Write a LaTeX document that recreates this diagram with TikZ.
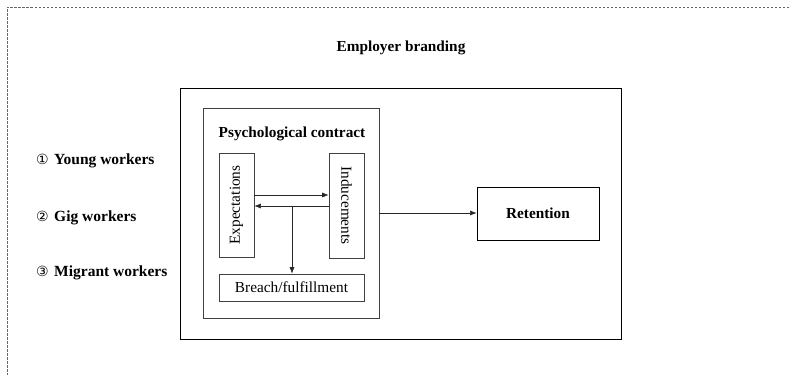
\documentclass[tikz,border=0pt]{standalone}
\usepackage{fontspec}
\setmainfont{Liberation Serif}
\newfontfamily\djv{DejaVu Sans}
\usetikzlibrary{arrows.meta}
\newcommand{\cnum}[1]{\makebox[18pt][l]{\djv\mdseries\fontsize{14}{16}\selectfont #1}}
\begin{document}
\begin{tikzpicture}[x=1pt,y=-1pt,
  every node/.style={font=\fontsize{15.3}{18}\selectfont, inner sep=0pt},
  box/.style={draw=black, line width=0.8pt, rectangle},
  thinbox/.style={draw=black!75, line width=0.7pt, rectangle},
  arr/.style={draw=black!85, line width=0.6pt, -{Latex[length=6.5pt,width=5pt]}},
  lbl/.style={anchor=west, font=\fontsize{15.5}{18}\selectfont\bfseries}]
\useasboundingbox (0,0) rectangle (789,375);
\fill[white] (0,0) rectangle (789,375);
% dashed frame
\coordinate (ftr) at (789,7);
\coordinate (ftl) at (7,7);
\coordinate (fbl) at (7,375);
\draw[black!60, line width=0.7pt, dash pattern=on 2.5pt off 1.5pt] (ftr) -- (ftl) -- (fbl);
% title
\node[font=\fontsize{15.3}{18}\selectfont\bfseries] (title) at (401,47.5) {Employer branding};
% outer box
\node[box, minimum width=441pt, minimum height=251pt] (outer) at (400.5,213.5) {};
% psychological contract box
\node[thinbox, minimum width=176pt, minimum height=210pt] (psych) at (291,213) {};
\node[font=\fontsize{15.3}{18}\selectfont\bfseries] (ptitle) at (292,134) {Psychological contract};
% expectations and inducements
\node[thinbox, minimum width=35pt, minimum height=104pt] (exp) at (236.5,205) {};
\node[rotate=90] (exptxt) at (exp.center) {Expectations};
\node[thinbox, minimum width=35pt, minimum height=105pt] (ind) at (346.5,205.5) {};
\node[rotate=-90] (indtxt) at (ind.center) {Inducements};
% breach
\node[thinbox, minimum width=145pt, minimum height=27pt] (breach) at (291.5,287.5) {Breach/fulfillment};
% retention
\node[box, minimum width=122pt, minimum height=53pt, font=\fontsize{15.3}{18}\selectfont\bfseries] (ret) at (538,213.5) {Retention};
% connectors
\coordinate (ya) at (0,195);
\coordinate (yb) at (0,206);
\coordinate (j) at (292,206);
\draw[arr] (exp.east |- ya) -- (ind.west |- ya);
\draw[arr] (ind.west |- yb) -- (exp.east |- yb);
\draw[arr] (j) -- (j |- breach.north);
\draw[arr] (psych.east) -- (psych.east -| ret.west);
% left labels
\node[lbl] (l1) at (36,160.5) {\cnum{①}Young workers};
\node[lbl] (l2) at (36,217.5) {\cnum{②}Gig workers};
\node[lbl] (l3) at (36,272.5) {\cnum{③}Migrant workers};
\end{tikzpicture}
\end{document}
